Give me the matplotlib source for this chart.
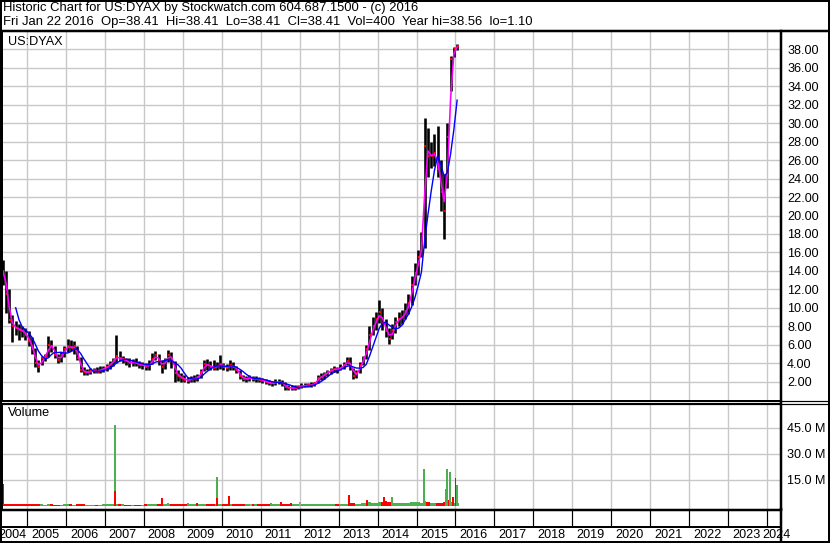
import numpy as np
import pandas as pd
import matplotlib
matplotlib.use("Agg")
import matplotlib.pyplot as plt
from matplotlib.lines import Line2D
from matplotlib.patches import Rectangle

plt.rcParams['font.family'] = ['Liberation Sans', 'DejaVu Sans']

# monthly bars, May 2004 .. Jan 2016
months = pd.date_range('2004-05-01', periods=141, freq='MS')

high = [15.2, 14.0, 12.0, 9.2, 8.6, 8.2, 8.0, 7.8,
        7.5, 6.8, 5.6, 4.3, 4.8, 5.0, 6.9, 6.5, 5.8, 5.0, 5.2, 5.8,
        6.6, 6.5, 6.4, 5.9, 4.7, 3.6, 3.4, 3.5, 3.5, 3.6, 3.7, 3.7,
        3.9, 4.2, 4.6, 7.0, 5.3, 4.8, 4.6, 4.5, 4.4, 4.5, 4.2, 4.1,
        4.0, 4.3, 5.1, 5.3, 5.0, 4.3, 4.6, 5.4, 5.2, 4.2, 3.3, 2.9,
        2.7, 2.5, 2.6, 2.7, 2.8, 3.4, 4.3, 4.4, 4.2, 4.3, 4.1, 4.9,
        4.0, 3.9, 4.3, 4.1, 3.7, 3.2, 2.7, 2.6, 2.7, 2.6, 2.6, 2.5,
        2.4, 2.3, 2.2, 2.1, 2.3, 2.3, 2.2, 2.0, 1.6, 1.6, 1.6, 1.6,
        1.8, 1.8, 1.8, 1.9, 2.0, 2.7, 2.9, 3.0, 3.2, 3.5, 3.7, 3.6,
        3.9, 4.1, 4.7, 4.7, 3.5, 3.2, 4.1, 4.8, 6.0, 8.0, 9.0, 9.5,
        10.8, 10.0, 8.8, 7.8, 8.2, 9.0, 9.5, 9.8, 10.5, 11.5, 13.4, 14.8,
        16.3, 18.2, 30.6, 29.5, 28.0, 28.8, 29.7, 26.0, 24.5, 30.0, 37.3, 38.3,
        38.56]
low = [12.5, 9.4, 8.3, 6.3, 7.0, 6.5, 6.8, 6.5,
       5.8, 5.0, 3.6, 3.0, 3.8, 4.2, 4.7, 5.2, 4.5, 4.0, 4.1, 4.7,
       5.2, 5.3, 5.0, 4.3, 3.0, 2.7, 2.7, 2.8, 2.9, 2.9, 2.9, 3.0,
       3.1, 3.4, 3.7, 4.0, 4.2, 4.0, 3.8, 3.6, 3.7, 3.7, 3.5, 3.4,
       3.3, 3.3, 3.9, 4.3, 3.8, 2.9, 3.4, 4.1, 3.5, 2.0, 2.1, 2.0,
       1.9, 1.8, 1.9, 2.0, 2.1, 2.4, 3.1, 3.3, 3.2, 3.2, 3.2, 3.4,
       3.3, 3.1, 3.3, 3.3, 2.9, 2.3, 2.1, 2.0, 2.1, 2.1, 2.0, 1.9,
       1.8, 1.7, 1.6, 1.5, 1.6, 1.7, 1.5, 1.1, 1.1, 1.1, 1.1, 1.2,
       1.3, 1.4, 1.4, 1.4, 1.5, 1.8, 2.2, 2.3, 2.6, 2.8, 3.0, 2.9,
       3.2, 3.4, 3.8, 3.3, 2.25, 2.4, 2.9, 3.8, 4.4, 5.4, 7.0, 7.6,
       8.3, 7.6, 6.8, 6.1, 6.6, 7.3, 8.0, 8.2, 8.8, 9.3, 10.3, 12.5,
       13.6, 15.5, 16.5, 24.2, 25.2, 25.4, 24.2, 20.5, 17.5, 23.0, 33.5, 37.2,
       37.9]
close = [14.0, 11.5, 8.7, 8.0, 7.8, 7.6, 7.5, 7.0,
         6.4, 5.5, 4.0, 3.6, 4.5, 4.7, 6.0, 5.8, 4.9, 4.3, 4.9, 5.5,
         5.9, 5.6, 5.8, 4.6, 3.3, 3.0, 3.0, 3.1, 3.2, 3.0, 3.3, 3.4,
         3.6, 3.9, 4.3, 4.8, 4.4, 4.4, 4.2, 4.0, 4.1, 4.0, 3.8, 3.8,
         3.6, 3.8, 4.4, 4.9, 4.2, 3.6, 4.3, 4.9, 4.4, 2.9, 2.6, 2.4,
         2.2, 2.1, 2.3, 2.3, 2.5, 3.0, 3.9, 3.8, 3.6, 3.5, 3.7, 3.9,
         3.6, 3.5, 3.8, 3.6, 3.2, 2.6, 2.3, 2.3, 2.4, 2.3, 2.3, 2.2,
         2.1, 2.0, 1.8, 1.8, 1.9, 2.0, 1.8, 1.4, 1.3, 1.3, 1.3, 1.4,
         1.55, 1.55, 1.6, 1.6, 1.8, 2.4, 2.5, 2.8, 3.0, 3.2, 3.4, 3.3,
         3.5, 3.8, 4.2, 3.8, 2.6, 2.9, 3.8, 4.5, 5.5, 7.0, 8.0, 8.8,
         9.5, 8.3, 7.5, 6.6, 7.6, 8.5, 8.8, 9.0, 9.7, 10.5, 12.5, 13.8,
         15.5, 17.0, 27.5, 26.5, 26.5, 26.8, 25.0, 22.5, 20.5, 28.5, 37.0, 38.1,
         38.41]
# typical daily volume per month (millions)
volume = [2.2, 1.3, 1.2, 1.0, 1.0, 1.1, 1.0, 0.9,
          1.0, 0.9, 1.2, 1.1, 0.9, 0.8, 1.1, 0.9, 0.8, 0.8, 0.8, 0.9,
          1.0, 0.9, 0.8, 1.0, 1.2, 0.9, 0.8, 0.8, 0.8, 0.8, 0.8, 0.9,
          1.0, 0.9, 1.0, 1.4, 1.1, 0.9, 0.8, 0.8, 0.8, 0.8, 0.8, 0.8,
          0.9, 1.0, 1.1, 1.0, 1.0, 1.1, 0.9, 1.2, 1.1, 1.3, 1.0, 1.0,
          1.0, 0.9, 1.0, 1.0, 1.1, 1.2, 1.3, 1.1, 1.0, 1.0, 1.0, 1.2,
          1.1, 1.0, 1.1, 1.0, 1.1, 1.0, 0.9, 0.9, 0.9, 1.0, 1.0, 1.0,
          1.0, 1.0, 1.1, 1.0, 1.2, 1.1, 1.0, 1.2, 1.1, 1.0, 0.9, 1.0,
          1.0, 1.0, 1.1, 1.1, 1.2, 1.3, 1.2, 1.1, 1.1, 1.1, 1.2, 1.1,
          1.2, 1.2, 1.4, 1.5, 1.7, 1.4, 1.4, 1.5, 1.7, 2.2, 2.0, 1.8,
          2.4, 2.2, 2.7, 2.4, 2.0, 1.8, 1.7, 1.7, 1.8, 2.0, 2.2, 2.2,
          2.2, 2.0, 2.7, 2.2, 1.7, 1.7, 1.7, 2.0, 2.2, 2.7, 2.2, 1.7,
          1.7]

# single heavy-volume days
spike_dates = ['2004-05-24', '2007-04-05', '2007-04-08', '2008-06-15', '2008-08-15',
               '2009-02-18', '2009-05-15', '2009-11-16', '2009-11-19', '2010-03-14',
               '2010-10-05', '2011-04-10', '2011-07-06', '2011-10-15', '2012-01-02',
               '2013-04-08', '2013-09-28', '2014-03-01', '2014-05-12', '2015-03-12',
               '2015-04-05', '2015-10-01', '2015-10-12', '2015-10-28', '2015-11-14',
               '2015-12-10', '2016-01-01', '2016-01-15']
spike_vol = [12.7, 46.7, 8.7, 4.8, 1.9, 2.0, 2.0, 16.9, 4.8, 5.8,
             1.2, 1.5, 2.1, 1.5, 2.3, 6.3, 3.5, 5.0, 5.0, 21.2,
             2.5, 9.6, 21.5, 3.5, 19.8, 5.0, 16.3, 12.1]
spike_dir = ['down', 'up', 'down', 'down', 'up', 'up', 'down', 'up', 'down', 'down',
             'flat', 'up', 'down', 'down', 'flat', 'down', 'down', 'down', 'up', 'up',
             'down', 'up', 'up', 'down', 'up', 'down', 'down', 'up']

price_ticks = list(range(2, 40, 2))
vol_ticks = [15, 30, 45]
years = list(range(2004, 2025))

title1 = "Historic Chart for US:DYAX by Stockwatch.com 604.687.1500 - (c) 2016"
title2 = ("Fri Jan 22 2016  Op=38.41  Hi=38.41  Lo=38.41  Cl=38.41  Vol=400  "
          "Year hi=38.56  lo=1.10")


def decyear(d):
    d = pd.to_datetime(d)
    return d.year + (d.dayofyear - 1) / 365.25


xm = np.array([m.year + (m.month - 0.5) / 12 for m in months])
close_s = pd.Series(close)
ma_fast = close_s.rolling(2, min_periods=1).mean()
ma_slow = close_s.rolling(5).mean()

W, H = 830, 543
PX = 0.72  # points per pixel at 100 dpi
FS = 9.1


def box(l, t, r, b):
    return [l / W, 1 - b / H, (r - l) / W, (b - t) / H]


fig = plt.figure(figsize=(W / 100, H / 100), dpi=100)
XL = (2004.357, 2024.357)
grid_c = '#c8c8c8'

ax_p = fig.add_axes(box(2, 31, 781, 400))
ax_v = fig.add_axes(box(2, 403, 781, 509))
ax_d = fig.add_axes(box(2, 509, 781, 541))

for ax in (ax_p, ax_v):
    ax.set_xlim(*XL)
    ax.set_xticks(years[1:])
    ax.tick_params(axis='x', length=0, labelbottom=False)
    ax.yaxis.tick_right()
    ax.tick_params(axis='y', length=0, pad=6 * PX, labelsize=FS)
    ax.grid(True, color=grid_c, lw=1.4 * PX)
    ax.set_axisbelow(True)
    for s in ax.spines.values():
        s.set_color('black')
        s.set_linewidth(1 * PX)
    ax.spines['right'].set_linewidth(2.5 * PX)

# price panel
ax_p.set_ylim(0, 40)
ax_p.set_yticks(price_ticks)
ax_p.set_yticklabels([f'{v:.2f}' for v in price_ticks])
ax_p.vlines(xm, low, high, color='black', lw=2.6 * PX)
ax_p.plot(xm + 0.02, close, 's', color='#ff0000', ms=2.4 * PX, mew=0)
ax_p.plot(xm, ma_fast, color='#ff00ff', lw=1.6 * PX)
ax_p.plot(xm, ma_slow, color='#0000ff', lw=1.4 * PX)

# volume panel
ax_v.set_ylim(-1.73, 59.4)
ax_v.set_yticks(vol_ticks)
ax_v.set_yticklabels([f'{v:.1f} M' for v in vol_ticks])
bar_cols = ['#4caf50' if i > 0 and close[i] >= close[i - 1] else '#ff0000'
            for i in range(len(close))]
ax_v.bar(xm, volume, width=1 / 12, color=bar_cols, linewidth=0)
dir_col = {'up': '#4caf50', 'down': '#ff0000', 'flat': '#a0a0a0'}
ax_v.bar([decyear(d) for d in spike_dates], spike_vol, width=0.05,
         color=[dir_col[k] for k in spike_dir], linewidth=0)

# date strip
ax_d.set_xlim(*XL)
ax_d.set_ylim(0, 1)
ax_d.set_xticks([])
ax_d.set_yticks([])
for s in ax_d.spines.values():
    s.set_visible(False)
ax_d.spines['right'].set_visible(True)
ax_d.spines['right'].set_linewidth(2.5 * PX)
ax_d.vlines(years[1:], 0.44, 1, color='black', lw=1.2 * PX)
ax_d.axhline(0.44, color='black', lw=2 * PX)
for y in years:
    if y == 2004:
        ax_d.text(XL[0] - 0.1, 0.2, str(y), ha='left', va='center', fontsize=FS,
                  clip_on=False)
    elif y == 2024:
        ax_d.text(2023.89, 0.2, str(y), ha='left', va='center', fontsize=FS,
                  clip_on=False)
    else:
        ax_d.text(y + 0.1, 0.2, str(y), ha='left', va='center', fontsize=FS)

# frame lines and text
def hline(y, x0=0, x1=W, lw=1):
    fig.add_artist(Line2D([x0 / W, x1 / W], [1 - y / H, 1 - y / H],
                          transform=fig.transFigure, color='black', lw=lw * PX))


hline(30.5, lw=2.5)
hline(400.5, lw=1.2)
hline(403.5, lw=1.2)
hline(509.5, x1=781, lw=2.5)
fig.add_artist(Rectangle((0, 0), 1, 1, transform=fig.transFigure, fill=False,
                         ec='black', lw=4 * PX))


def ftxt(x, y, s, fs=FS):
    fig.text(x / W, 1 - y / H, s, va='center', ha='left', fontsize=fs)


ftxt(3, 7.5, title1, 9.4)
ftxt(3, 21.5, title2, 9.4)
ftxt(8, 42, 'US:DYAX')
ftxt(8, 413.5, 'Volume')

fig.savefig('out.png', dpi=100)
